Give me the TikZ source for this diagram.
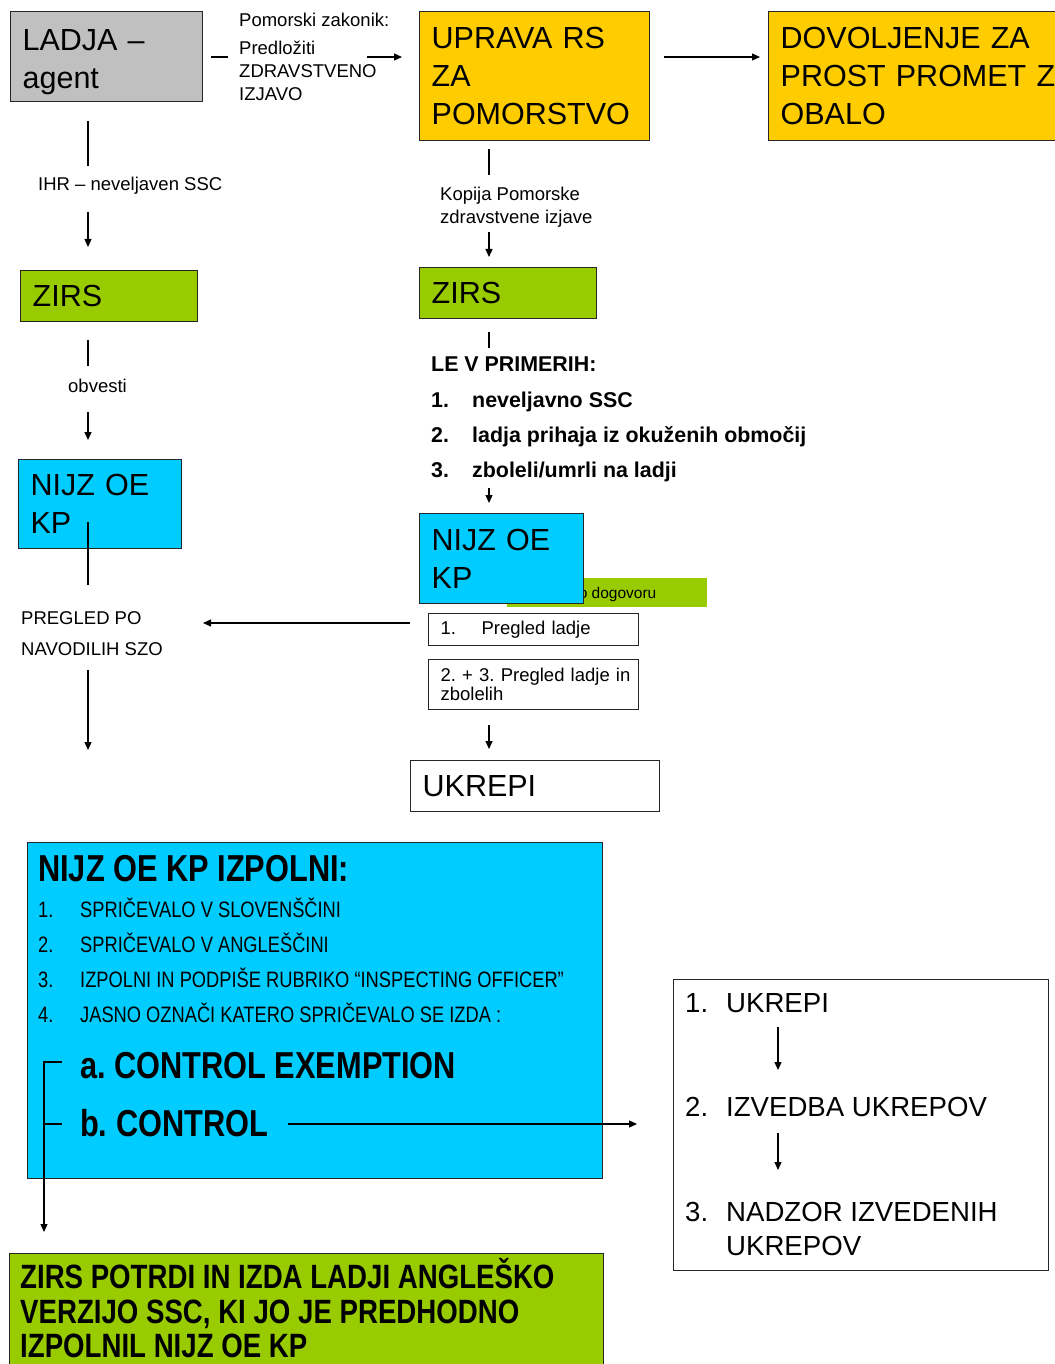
\documentclass[tikz,border=0pt]{standalone}
\usepackage{fontspec}
\setmainfont{Liberation Sans}
\newfontfamily\narrowf[FakeStretch=0.82]{Liberation Sans}
\usetikzlibrary{arrows.meta}
\definecolor{cgray}{HTML}{C0C0C0}
\definecolor{corange}{HTML}{FFCC00}
\definecolor{cgreen}{HTML}{99CC00}
\definecolor{ccyan}{HTML}{00CCFF}
\newcommand\fbig{\fontsize{30.5}{38}\selectfont}
\newcommand\fsm{\fontsize{18.5}{23}\selectfont}
\newcommand\fmed{\fontsize{27.6}{34}\selectfont}
\newcommand\fle{\fontsize{21.4}{35}\selectfont\bfseries}
\newcommand\ftitle{\narrowf\bfseries\fontsize{37.5}{45}\selectfont}
\newcommand\flist{\narrowf\fontsize{22.3}{27}\selectfont}
\newcommand\fbot{\narrowf\bfseries\fontsize{33.7}{35}\selectfont}
\newcommand\tabn[2]{\makebox[#1][l]{#2}}
\frenchspacing
\begin{document}
\frenchspacing
\begin{tikzpicture}[x=1pt,y=-1pt,
  box/.style={draw=black!85, line width=1.3pt, anchor=north west, inner xsep=12pt, inner ysep=0pt, align=left},
  lbl/.style={inner sep=0pt, anchor=base west},
  ln/.style={line width=1.2pt},
  arr/.style={line width=1.2pt, -{Triangle[length=8pt,width=7pt]}}]
\useasboundingbox (0,0) rectangle (1054,1364);
\fill[white] (0,0) rectangle (1054,1364);

% ---------- top row
\node[box, fill=cgray, text width=168pt, minimum height=90pt, font=\fbig] (ladja) at (10,11) {\rule{0pt}{32pt}LADJA –\\agent};
\node[box, fill=corange, text width=206pt, minimum height=129pt, font=\fbig] (uprava) at (419,11) {UPRAVA RS\\ZA\\POMORSTVO};
\node[box, fill=corange, text width=300pt, minimum height=129pt, font=\fbig] (dovol) at (768,11) {DOVOLJENJE ZA\\\mbox{PROST PROMET Z}\\OBALO};

\node[lbl, font=\fsm] (zakon) at (239,27) {Pomorski zakonik:};
\node[inner sep=0pt, anchor=north west, align=left, font=\fsm] (predl) at (239,40.8) {Predložiti\\ZDRAVSTVENO\\IZJAVO};
\coordinate (a1) at (211,57); \coordinate (a2) at (228,57);
\coordinate (a3) at (367,57); \coordinate (a4) at (402,57);
\draw[ln] (a1) -- (a2);
\draw[arr] (a3) -- (a4);
\coordinate (b1) at (664,57); \coordinate (b2) at (760,57);
\draw[arr] (b1) -- (b2);

% ---------- left column
\coordinate (l1) at (88,121); \coordinate (l2) at (88,166);
\draw[ln] (l1) -- (l2);
\node[lbl, font=\fsm] (ihr) at (38,191) {IHR – neveljaven SSC};
\coordinate (l3) at (88,212); \coordinate (l4) at (88,247);
\draw[arr] (l3) -- (l4);

\node[box, fill=cgreen, text width=153pt, minimum height=51pt, font=\fbig] (zirsL) at (20,270) {ZIRS};

\coordinate (l5) at (88,340); \coordinate (l6) at (88,366);
\draw[ln] (l5) -- (l6);
\node[lbl, font=\fsm] (obv) at (68,392) {obvesti};
\coordinate (l7) at (88,412); \coordinate (l8) at (88,440);
\draw[arr] (l7) -- (l8);

\node[box, fill=ccyan, text width=139pt, minimum height=89pt, font=\fbig] (nijzL) at (18,459) {NIJZ OE\\KP};

\coordinate (l9) at (88,522); \coordinate (l10) at (88,585);
\draw[ln] (l9) -- (l10);
\node[lbl, font=\fsm] (preg1) at (21,624) {PREGLED PO};
\node[lbl, font=\fsm] (preg2) at (21,655) {NAVODILIH SZO};
\coordinate (l11) at (88,670); \coordinate (l12) at (88,750);
\draw[arr] (l11) -- (l12);

% ---------- right column
\coordinate (r1) at (489,149); \coordinate (r2) at (489,175);
\draw[ln] (r1) -- (r2);
\node[inner sep=0pt, anchor=north west, align=left, font=\fsm] (kop) at (440,186.4) {Kopija Pomorske\\zdravstvene izjave};
\coordinate (r3) at (489,232); \coordinate (r4) at (489,257);
\draw[arr] (r3) -- (r4);

\node[box, fill=cgreen, text width=153pt, minimum height=51pt, font=\fbig] (zirsR) at (419,267) {ZIRS};

\coordinate (r5) at (489,332); \coordinate (r6) at (489,348);
\draw[ln] (r5) -- (r6);
\node[lbl, font=\fle] (le) at (431,371) {LE V PRIMERIH:};
\node[lbl, font=\fle] (le1) at (431,407) {\tabn{41pt}{1.}neveljavno SSC};
\node[lbl, font=\fle] (le2) at (431,442) {\tabn{41pt}{2.}ladja prihaja iz okuženih območij};
\node[lbl, font=\fle] (le3) at (431,477) {\tabn{41pt}{3.}zboleli/umrli na ladji};
\coordinate (r7) at (489,488); \coordinate (r8) at (489,503);
\draw[arr] (r7) -- (r8);

\node[anchor=north west, fill=cgreen, minimum width=200pt, minimum height=29pt, inner sep=0pt] (dog) at (507,578) {};
\node[lbl, font=\fontsize{15.5}{18}\selectfont] (dogt) at (570,598.5) {po dogovoru};
\node[box, fill=ccyan, text width=140pt, minimum height=90pt, font=\fbig] (nijzR) at (419,513) {NIJZ OE\\KP};

\node[box, fill=white, text width=186pt, minimum height=32pt, font=\fsm] (pl1) at (428,613) {\tabn{41pt}{1.}Pregled ladje};
\node[box, fill=white, text width=186pt, minimum height=50pt, font=\fontsize{18.5}{19}\selectfont] (pl2) at (428,659) {\mbox{2. + 3. Pregled ladje in}\\zbolelih};

\coordinate (p1) at (410,623); \coordinate (p2) at (203,623);
\draw[arr] (p1) -- (p2);
\coordinate (r9) at (489,725); \coordinate (r10) at (489,749);
\draw[arr] (r9) -- (r10);

\node[box, fill=white, text width=225pt, minimum height=51pt, font=\fbig] (ukrepi) at (410,760) {UKREPI};

% ---------- big cyan box
\node[box, fill=ccyan, minimum width=575pt, minimum height=336pt] (izp) at (27,842) {};
\node[lbl, font=\ftitle] (izt) at (38,881) {NIJZ OE KP IZPOLNI:};
\node[lbl, font=\flist] (i1) at (38,917) {\tabn{42pt}{1.}SPRIČEVALO V SLOVENŠČINI};
\node[lbl, font=\flist] (i2) at (38,952) {\tabn{42pt}{2.}SPRIČEVALO V ANGLEŠČINI};
\node[lbl, font=\flist] (i3) at (38,987) {\tabn{42pt}{3.}IZPOLNI IN PODPIŠE RUBRIKO “INSPECTING OFFICER”};
\node[lbl, font=\flist] (i4) at (38,1022) {\tabn{42pt}{4.}JASNO OZNAČI KATERO SPRIČEVALO SE IZDA :};
\node[lbl, font=\ftitle] (ia) at (80,1078) {a. CONTROL EXEMPTION};
\node[lbl, font=\ftitle] (ib) at (80,1136) {b. CONTROL};

\coordinate (k1) at (62,1062); \coordinate (k2) at (44,1062); \coordinate (k3) at (44,1232);
\coordinate (k4) at (44,1124); \coordinate (k5) at (62,1124);
\draw[arr] (k1) -- (k2) -- (k3);
\draw[ln] (k4) -- (k5);
\coordinate (m1) at (288,1124); \coordinate (m2) at (637,1124);
\draw[arr] (m1) -- (m2);

% ---------- right box
\node[box, fill=white, minimum width=375pt, minimum height=291pt] (ukr) at (673,979) {};
\node[lbl, font=\fmed] (u1) at (685,1012) {\tabn{41pt}{1.}UKREPI};
\node[lbl, font=\fmed] (u2) at (685,1116) {\tabn{41pt}{2.}IZVEDBA UKREPOV};
\node[lbl, font=\fmed] (u3) at (685,1221) {\tabn{41pt}{3.}NADZOR IZVEDENIH};
\node[lbl, font=\fmed] (u4) at (726,1255) {UKREPOV};
\coordinate (n1) at (778,1027); \coordinate (n2) at (778,1070);
\coordinate (n3) at (778,1133); \coordinate (n4) at (778,1170);
\draw[arr] (n1) -- (n2);
\draw[arr] (n3) -- (n4);

% ---------- bottom green box
\node[box, fill=cgreen, minimum width=594pt, minimum height=140pt] (zirsB) at (9,1253) {};
\node[lbl, font=\fbot] (z1) at (20,1288) {ZIRS POTRDI IN IZDA LADJI ANGLEŠKO};
\node[lbl, font=\fbot] (z2) at (20,1323) {VERZIJO SSC, KI JO JE PREDHODNO};
\node[lbl, font=\fbot] (z3) at (20,1357) {IZPOLNIL NIJZ OE KP};
\end{tikzpicture}
\end{document}
